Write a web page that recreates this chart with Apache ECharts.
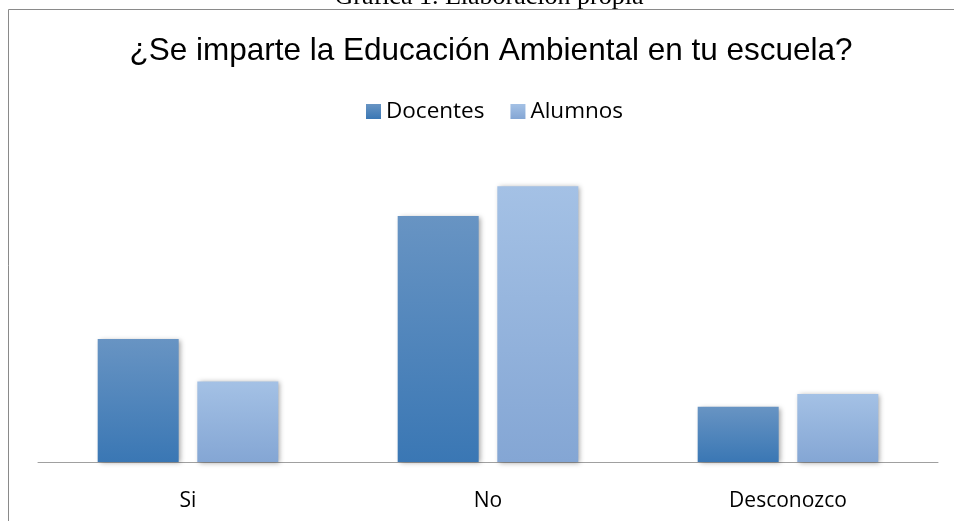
<!DOCTYPE html>
<html>
<head>
<meta charset="utf-8">
<script src="https://cdn.jsdelivr.net/npm/echarts@6/dist/echarts.min.js"></script>
<style>
  html, body { margin: 0; padding: 0; background: #fff; }
  #chart { width: 954px; height: 521px; }
</style>
</head>
<body>
<div id="chart"></div>
<script>
// respuestas en porcentaje
const categories = ['Si', 'No', 'Desconozco']
const docentes = [29, 58, 13]
const alumnos = [19, 65, 16]

const chart = echarts.init(document.getElementById('chart'))

function grad(top, bottom) {
  return new echarts.graphic.LinearGradient(0, 0, 0, 1, [
    { offset: 0, color: top },
    { offset: 1, color: bottom }
  ])
}

const barShadow = {
  shadowBlur: 5,
  shadowColor: 'rgba(0,0,0,0.35)',
  shadowOffsetX: 2,
  shadowOffsetY: 1
}

const option = {
  animation: false,
  backgroundColor: '#fff',
  title: {
    text: '¿Se imparte la Educación Ambiental en tu escuela?',
    left: 486,
    textAlign: 'center',
    top: 30,
    textStyle: {
      fontFamily: 'Liberation Sans',
      fontSize: 31.5,
      fontWeight: 'normal',
      color: '#000'
    }
  },
  legend: {
    top: 95,
    left: 361,
    itemWidth: 15,
    itemHeight: 15,
    itemGap: 26,
    icon: 'rect',
    textStyle: {
      fontFamily: 'Open Sans',
      fontSize: 22.5,
      color: '#000'
    },
    data: ['Docentes', 'Alumnos']
  },
  grid: {
    left: 38,
    right: 16,
    top: 165,
    bottom: 59
  },
  xAxis: {
    type: 'category',
    data: categories,
    axisLine: { lineStyle: { color: '#a0a0a0', width: 1 } },
    axisTick: { show: false },
    axisLabel: {
      margin: 29,
      fontFamily: 'Open Sans',
      fontSize: 21,
      color: '#000'
    }
  },
  yAxis: {
    type: 'value',
    min: 0,
    max: 70,
    axisLine: { show: false },
    axisTick: { show: false },
    axisLabel: { show: false },
    splitLine: { show: false }
  },
  series: [
    {
      name: 'Docentes',
      type: 'bar',
      data: docentes,
      barWidth: 81,
      barGap: '23%',
      itemStyle: Object.assign({ color: grad('#6894c3', '#3a77b4') }, barShadow)
    },
    {
      name: 'Alumnos',
      type: 'bar',
      data: alumnos,
      barWidth: 81,
      itemStyle: Object.assign({ color: grad('#a4c1e5', '#84a6d4') }, barShadow)
    }
  ],
  graphic: [
    {
      type: 'rect',
      shape: { x: 8.5, y: 9.5, width: 980, height: 540 },
      style: { fill: 'none', stroke: '#8a8a8a', lineWidth: 1 },
      silent: true
    },
    {
      type: 'text',
      x: 489,
      y: 10,
      style: {
        text: 'Gráfica 1. Elaboración propia',
        fontFamily: 'Liberation Serif',
        fontSize: 26,
        align: 'center',
        verticalAlign: 'bottom',
        fill: '#000'
      },
      silent: true
    }
  ]
}

chart.setOption(option)
window.addEventListener('resize', chart.resize)
</script>
</body>
</html>
